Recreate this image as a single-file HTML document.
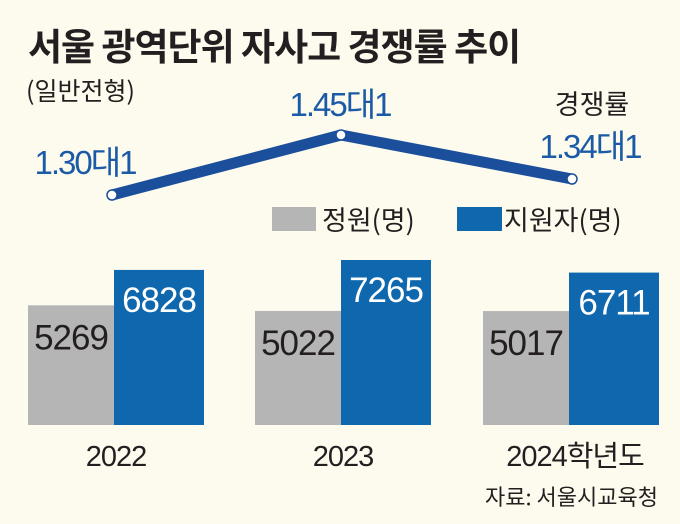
<!DOCTYPE html>
<html><head><meta charset="utf-8">
<style>
html,body{margin:0;padding:0;background:#fcfbee;}
svg{display:block;font-family:"Liberation Sans","Noto Sans CJK KR",sans-serif;}
</style></head><body>
<svg id="c" width="680" height="524" viewBox="0 0 680 524">
<rect width="680" height="524" fill="#fcfbee"/>
<text x="28" y="60" font-size="37" font-weight="bold" fill="#231f20" letter-spacing="-1" font-family="'Noto Sans CJK KR',sans-serif">서울 광역단위 자사고 경쟁률 추이</text>
<text x="26" y="100" font-size="25" fill="#231f20" font-family="'Noto Sans CJK KR',sans-serif">(일반전형)</text>
<text x="592" y="114" font-size="27" fill="#231f20" text-anchor="middle" font-family="'Noto Sans CJK KR',sans-serif">경쟁률</text>
<rect x="272" y="207" width="44" height="24" fill="#b5b5b5"/>
<text x="322" y="230" font-size="27" fill="#231f20" font-family="'Noto Sans CJK KR',sans-serif">정원(명)</text>
<rect x="457" y="207" width="45" height="24" fill="#0f68ae"/>
<text x="504" y="230" font-size="27" fill="#231f20" font-family="'Noto Sans CJK KR',sans-serif">지원자(명)</text>
<text x="658" y="505" font-size="22" fill="#231f20" text-anchor="end" font-family="'Noto Sans CJK KR',sans-serif">자료: 서울시교육청</text>
<g id="bars"></g><g id="line"></g>
</svg>
<script>
const categories=["2022","2023","2024학년도"];
const quota=[5269,5022,5017];
const applicants=[6828,7265,6711];
const rates=[1.30,1.45,1.34];
const rateLabels=["1.30대1","1.45대1","1.34대1"];
const NS="http://www.w3.org/2000/svg";
const base=425, scale=165/7265;
const yB=v=>base-v*scale;
const groupX=[28,255,483];
const xC=i=>groupX[i];
const yR=r=>195-(r-1.30)/(0.15)*60;
const lx=i=>[112,341,572][i];
function mk(t,a,p){const e=document.createElementNS(NS,t);for(const k in a)e.setAttribute(k,a[k]);p.appendChild(e);return e;}
const gb=document.getElementById('bars');
categories.forEach((c,i)=>{
  const x=xC(i);
  const r1=mk('rect',{x:x,y:yB(quota[i]),width:86,height:base-yB(quota[i]),fill:'#b5b5b5'},gb);
  
  
  const r2=mk('rect',{x:x+86,y:yB(applicants[i]),width:90,height:base-yB(applicants[i]),fill:'#0f68ae'},gb);
  
  
  const t1=mk('text',{x:x+43,y:yB(quota[i])+44,'font-size':35,fill:'#231f20','text-anchor':'middle','letter-spacing':'-1'},gb);t1.textContent=quota[i];
  
  
  const t2=mk('text',{x:x+131,y:yB(applicants[i])+42,'font-size':35,fill:'#ffffff','text-anchor':'middle','letter-spacing':'-1'},gb);t2.textContent=applicants[i];
  
  
  const tl=mk('text',{x:x+88+(i==2?4:0),y:466,'font-size':29,fill:'#231f20','text-anchor':'middle','letter-spacing':'-1','font-family':"'Liberation Sans','Noto Sans CJK KR',sans-serif"},gb);tl.textContent=c;
  
  
});
const gl=document.getElementById('line');
const pts=rates.map((r,i)=>lx(i)+','+yR(r)).join(' ');
const pl=mk('polyline',{points:pts,fill:'none',stroke:'#1b4f9b','stroke-width':11,'stroke-linejoin':'round','stroke-linecap':'round'},gl);


const lp=[[85,174],[340,116],[590,158]];
rates.forEach((r,i)=>{
  const c=mk('circle',{cx:lx(i),cy:yR(r),r:5,fill:'#fff',stroke:'#1b4f9b','stroke-width':1.5},gl);
  
  
  const t=mk('text',{x:lp[i][0],y:lp[i][1],'font-size':33,fill:'#1b5aa6','text-anchor':'middle','letter-spacing':'-2','font-family':"'Liberation Sans','Noto Sans CJK KR',sans-serif"},gl);t.textContent=rateLabels[i];
  
  
});
</script>
</body></html>
